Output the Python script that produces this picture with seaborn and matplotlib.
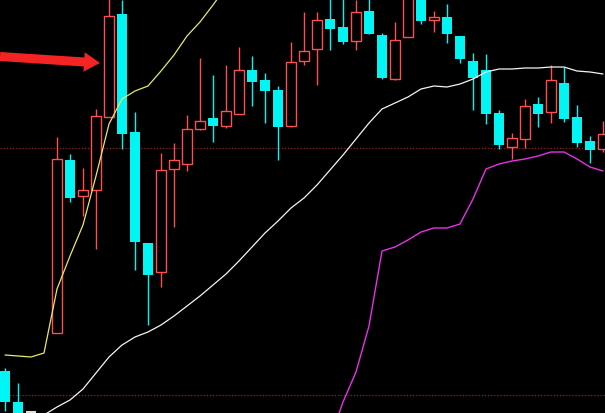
import numpy as np
import pandas as pd
import matplotlib
matplotlib.use("Agg")
import matplotlib.pyplot as plt
import seaborn as sns

# ---- data (price units) ----
opens = [42, 11, 1, -40, 80, 253, 217, 223, 296, 399, 281, 170, 141, 244, 249, 284,
         295, 287, 299, 343, 333, 323, 287, 352, 364, 394, 386, 372, 402, 378, 334,
         376, 420, 393, 396, 377, 352, 343, 300, 266, 274, 309, 301, 330, 296, 272, 264]
highs = [45, 30, 1, -15, 276, 259, 245, 304, 420, 413, 301, 170, 260, 270, 298, 355,
         338, 348, 366, 357, 340, 327, 371, 401, 401, 420, 420, 413, 420, 380, 391,
         425, 425, 402, 409, 377, 360, 359, 303, 280, 314, 316, 348, 346, 308, 277, 292]
lows = [2, -16, -6, -45, 80, 211, 197, 164, 296, 264, 143, 88, 126, 186, 242, 283,
        271, 285, 299, 307, 290, 253, 286, 348, 328, 363, 369, 363, 379, 334, 333,
        376, 389, 381, 370, 350, 303, 289, 264, 254, 265, 286, 290, 291, 266, 250, 261]
closes = [11, -11, 1, -20, 254, 215, 223, 297, 397, 279, 171, 138, 243, 253, 284, 292,
          287, 302, 343, 331, 322, 286, 351, 362, 393, 384, 371, 401, 379, 335, 373,
          420, 392, 396, 379, 354, 335, 299, 268, 275, 307, 299, 333, 294, 270, 263, 279]

nan = np.nan
ma_yellow = [58, 57, 56, 60, 124, 157, 188, 237, 289, 314, 322, 327, 342, 358, 377, 391,
             408, 426] + [nan] * 29
ma_white = [-31, -21, -10, -2, 6, 13, 24, 40, 56, 68, 76, 81, 88, 97, 107, 117, 128, 139,
            152, 166, 180, 192, 205, 215, 228, 243, 258, 274, 290, 304, 310, 316, 324, 327,
            326, 329, 334, 341, 344, 344, 345, 345, 346, 346, 342, 341, 339]
ma_magenta = [nan] * 25 + [-26, 11, 41, 87, 162, 166, 173, 181, 185, 185, 189, 214, 244,
                           249, 252, 254, 257, 261, 261, 254, 246, 242]
ref_levels = [265, 18]

n = len(opens)
idx = np.arange(n)

RED = "#ff4f4f"
CYAN = "#00f5f5"

sns.set_style("dark", {"axes.facecolor": "black", "figure.facecolor": "black"})
fig = plt.figure(figsize=(6.05, 4.14), dpi=100)
ax = fig.add_axes([0, 0, 1, 1])
ax.set_facecolor("black")

# reference dotted lines
for lv in ref_levels:
    ax.axhline(lv, color="#9a1c1c", lw=0.9, ls=(0, (1, 1.5)), zorder=1)

# candles
w = 0.84
for i in range(n):
    o, h, l, c = opens[i], highs[i], lows[i], closes[i]
    top, bot = max(o, c), min(o, c)
    if c > o:
        ax.vlines(i, top, h, color=RED, lw=1.0, zorder=3)
        ax.vlines(i, l, bot, color=RED, lw=1.0, zorder=3)
        ax.bar(i, top - bot, bottom=bot, width=w - 0.08, facecolor="black",
               edgecolor=RED, linewidth=1.0, zorder=4)
    elif c < o:
        ax.vlines(i, l, h, color=CYAN, lw=1.0, zorder=3)
        ax.bar(i, top - bot, bottom=bot, width=w, facecolor=CYAN,
               edgecolor=CYAN, linewidth=0, zorder=4)
    else:
        ax.vlines(i, l, h, color="#e0e0e0", lw=1.0, zorder=3)
        ax.hlines(o, i - w / 2, i + w / 2, color="#e0e0e0", lw=1.5, zorder=4)

# moving averages
df = pd.DataFrame({"i": idx, "yellow": ma_yellow, "white": ma_white, "magenta": ma_magenta})
sns.lineplot(data=df, x="i", y="yellow", ax=ax, color="#e8e86a", lw=0.9, estimator=None, zorder=5)
sns.lineplot(data=df, x="i", y="white", ax=ax, color="#f4f4f4", lw=0.9, estimator=None, zorder=5)
sns.lineplot(data=df, x="i", y="magenta", ax=ax, color="#e830e8", lw=1.0, estimator=None, zorder=5)

# red arrow annotation
ax.annotate("", xy=(100 / 605, 1 - 64 / 414), xycoords="axes fraction",
            xytext=(0.0, 1 - 57.5 / 414), textcoords="axes fraction",
            arrowprops=dict(arrowstyle="simple,head_length=11.5,head_width=14,tail_width=6.5",
                            mutation_scale=1, color="#f52424", lw=0, shrinkA=0, shrinkB=0),
            zorder=6)

ax.set_xlim(-5 / 13, 600 / 13)
ax.set_ylim(0, 414)
ax.set_axis_off()

fig.savefig("out.png", dpi=100, facecolor="black")
